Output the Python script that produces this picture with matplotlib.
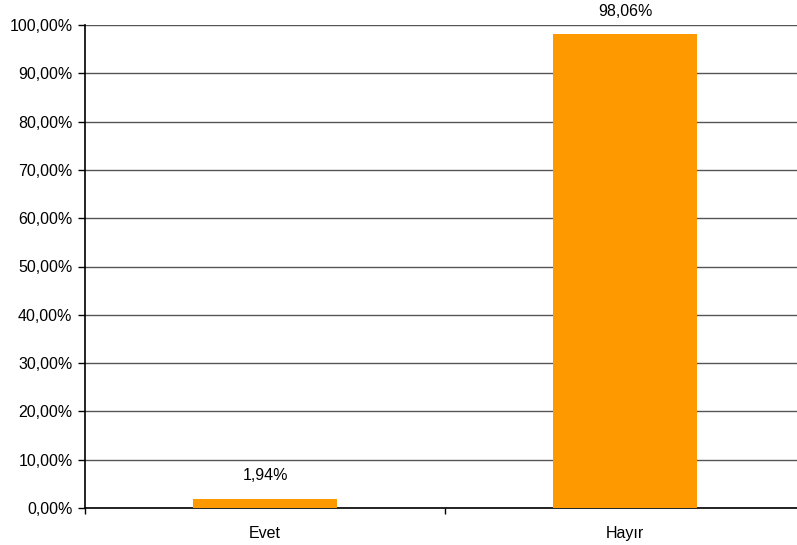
import matplotlib.pyplot as plt
from matplotlib.ticker import FuncFormatter, FixedLocator

categories = ["Evet", "Hayır"]
percentages = [1.94, 98.06]
y_ticks = [0, 10, 20, 30, 40, 50, 60, 70, 80, 90, 100]

plt.rcParams['font.family'] = ['Liberation Sans', 'DejaVu Sans']

fig = plt.figure(figsize=(7.97, 5.45), dpi=100)
# axes runs slightly past the right edge of the figure
ax = fig.add_axes([85 / 797, 37 / 545, 720 / 797, 483 / 545])

x = range(len(categories))
bars = ax.bar(x, percentages, width=0.4, color="#FF9900", zorder=3)

ax.set_xlim(-0.5, 1.5)
ax.set_ylim(0, 100)
ax.set_yticks(y_ticks)
ax.yaxis.set_major_formatter(FuncFormatter(lambda v, p: "{:.2f}%".format(v).replace(".", ",")))
ax.yaxis.grid(True, color="#555555", linewidth=1, zorder=1)

ax.set_xticks(list(x))
ax.set_xticklabels(categories)
ax.xaxis.set_minor_locator(FixedLocator([-0.5, 0.5, 1.5]))
ax.tick_params(axis="x", which="major", length=0, pad=13, labelsize=11.5)
ax.tick_params(axis="x", which="minor", length=4, width=1, direction="out")
ax.tick_params(axis="y", length=5, width=1, pad=4, labelsize=11.5)

for s in ["top", "right"]:
    ax.spines[s].set_visible(False)
for s in ["left", "bottom"]:
    ax.spines[s].set_linewidth(1.2)

# value labels above the bars
for b, v in zip(bars, percentages):
    ax.annotate("{:.2f}%".format(v).replace(".", ","),
                (b.get_x() + b.get_width() / 2, v),
                xytext=(0, 11), textcoords="offset points",
                ha="center", va="bottom", fontsize=11.5)

fig.savefig("out.png", dpi=100)
